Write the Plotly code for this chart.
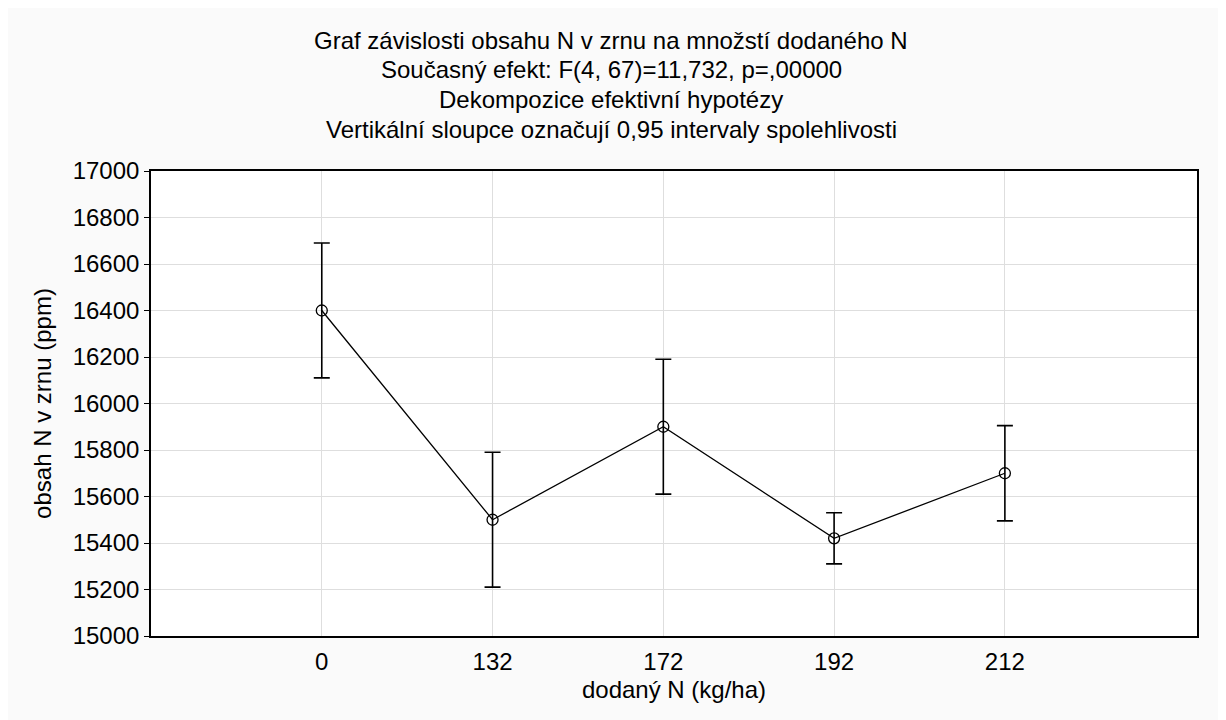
import plotly.graph_objects as go

categories = ["0", "132", "172", "192", "212"]
means = [16400, 15500, 15900, 15420, 15700]
ci_half = [290, 290, 290, 110, 205]
y_ticks = list(range(15000, 17001, 200))

title_lines = [
    "Graf závislosti obsahu N v zrnu na množstí dodaného N",
    "Současný efekt: F(4, 67)=11,732, p=,00000",
    "Dekompozice efektivní hypotézy",
    "Vertikální sloupce označují 0,95 intervaly spolehlivosti",
]

FONT = "Liberation Sans, Arial, sans-serif"
FS = 24
x_idx = list(range(len(categories)))

fig = go.Figure()
fig.add_trace(go.Scatter(
    x=x_idx, y=means, mode="lines+markers",
    line=dict(color="black", width=1.3),
    marker=dict(symbol="circle-open", size=11, color="black", line=dict(width=1.3)),
    error_y=dict(type="data", array=ci_half, visible=True, color="black", thickness=1.6, width=8),
    showlegend=False,
))

W, H = 1212, 720
l, r, t, b = 143, 23, 163, 92
ph = H - t - b
line_px = [40, 70, 99, 129]
for txt, ypx in zip(title_lines, line_px):
    fig.add_annotation(
        text=txt, xref="paper", yref="paper",
        x=(611 - 151) / 1046, y=(636 - ypx) / ph,
        xanchor="center", yanchor="middle", showarrow=False,
        font=dict(family=FONT, size=FS, color="black"),
    )

fig.update_layout(
    width=W, height=H,
    margin=dict(l=l, r=r, t=t, b=b),
    paper_bgcolor="#fafafa", plot_bgcolor="white",
    font=dict(family=FONT, size=FS, color="black"),
)
fig.update_xaxes(
    range=[-1.0, 5.125], tickmode="array", tickvals=x_idx, ticktext=categories,
    showgrid=True, gridcolor="#dedede", gridwidth=1,
    showline=True, linecolor="black", linewidth=1.6, mirror=True,
    ticks="outside", ticklen=3, tickcolor="rgba(0,0,0,0)", zeroline=False,
    title=dict(text="dodaný N (kg/ha)", font=dict(size=FS), standoff=8),
)
fig.update_yaxes(
    range=[15000, 17000], tickmode="array", tickvals=y_ticks,
    ticktext=[str(v) for v in y_ticks],
    showgrid=True, gridcolor="#dedede", gridwidth=1,
    showline=True, linecolor="black", linewidth=1.6, mirror=True,
    ticks="outside", ticklen=5, tickcolor="black", zeroline=False,
    title=dict(text="obsah N v zrnu (ppm)", font=dict(size=FS), standoff=14),
)

fig.write_html("out.html")
